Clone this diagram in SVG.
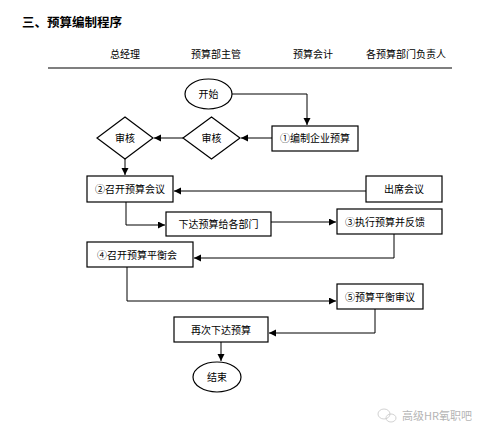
<svg xmlns="http://www.w3.org/2000/svg" width="495" height="443" viewBox="0 0 495 443">
<style>
text{font-family:"Noto Sans CJK SC","Liberation Sans",sans-serif;fill:#000}
.t{font-size:10px}
.c{text-anchor:middle}
.box{fill:#fff;stroke:#000;stroke-width:1.2}
.ln{fill:none;stroke:#000;stroke-width:1}
</style>
<defs>
<marker id="ah" markerWidth="8" markerHeight="8" refX="7" refY="3.5" orient="auto" markerUnits="userSpaceOnUse">
<path d="M0,0 L7,3.5 L0,7 Z" fill="#000"/>
</marker>
</defs>
<rect width="495" height="443" fill="#fff"/>
<text x="22" y="27" style="font-size:12.5px;font-weight:bold">三、预算编制程序</text>
<g id="headers" class="t">
<text class="t c" x="125" y="58">总经理</text>
<text class="t c" x="216" y="58">预算部主管</text>
<text class="t c" x="313" y="58">预算会计</text>
<text class="t c" x="406" y="58">各预算部门负责人</text>
<line x1="48" y1="68" x2="452" y2="68" stroke="#000" stroke-width="1.2"/>
</g>
<g id="connectors">
<path class="ln" d="M232,94 H307 V125" marker-end="url(#ah)"/>
<path class="ln" d="M272,138 H241" marker-end="url(#ah)"/>
<path class="ln" d="M183,138 H154" marker-end="url(#ah)"/>
<path class="ln" d="M125,159 V175" marker-end="url(#ah)"/>
<path class="ln" d="M366,191 H174" marker-end="url(#ah)"/>
<path class="ln" d="M126,202 V225 H165" marker-end="url(#ah)"/>
<path class="ln" d="M271,222 H336" marker-end="url(#ah)"/>
<path class="ln" d="M394,234 V258 H194" marker-end="url(#ah)"/>
<path class="ln" d="M127,267 V301 H336" marker-end="url(#ah)"/>
<path class="ln" d="M375,309 V333 H269" marker-end="url(#ah)"/>
<path class="ln" d="M221,342 V361" marker-end="url(#ah)"/>
</g>
<g id="start">
<ellipse class="box" cx="208.5" cy="94" rx="23.5" ry="15"/>
<text class="t c" x="208.5" y="98">开始</text>
</g>
<g id="n1">
<rect class="box" x="272" y="126" width="86" height="25"/>
<text class="t c" x="315" y="142">①编制企业预算</text>
</g>
<g id="d1">
<polygon class="box" points="211.5,117 240,138 211.5,159 183,138"/>
<text class="t c" x="211.5" y="142">审核</text>
</g>
<g id="d2">
<polygon class="box" points="125,117 153,138 125,159 97,138"/>
<text class="t c" x="125" y="142">审核</text>
</g>
<g id="n2">
<rect class="box" x="87" y="176" width="86" height="26"/>
<text class="t c" x="130" y="193">②召开预算会议</text>
</g>
<g id="attend">
<rect class="box" x="366" y="176" width="76" height="26"/>
<text class="t c" x="404" y="193">出席会议</text>
</g>
<g id="issue">
<rect class="box" x="166" y="212" width="105" height="24"/>
<text class="t c" x="218.5" y="228">下达预算给各部门</text>
</g>
<g id="n3">
<rect class="box" x="337" y="209" width="105" height="25"/>
<text class="t" x="345" y="226">③执行预算并反馈</text>
</g>
<g id="n4">
<rect class="box" x="87" y="242" width="106" height="25"/>
<text class="t" x="97" y="259">④召开预算平衡会</text>
</g>
<g id="n5">
<rect class="box" x="337" y="284" width="86" height="25"/>
<text class="t c" x="380" y="301">⑤预算平衡审议</text>
</g>
<g id="reissue">
<rect class="box" x="174" y="317" width="94" height="25"/>
<text class="t c" x="221" y="334">再次下达预算</text>
</g>
<g id="end">
<ellipse class="box" cx="217" cy="377" rx="24" ry="15"/>
<text class="t c" x="217" y="381">结束</text>
</g>
<g id="watermark" opacity="0.55">
<ellipse cx="384" cy="414" rx="6" ry="5" fill="none" stroke="#999" stroke-width="0.8"/>
<ellipse cx="391" cy="418" rx="5" ry="4" fill="none" stroke="#999" stroke-width="0.8"/>
<text x="402" y="420" style="font-size:11px;fill:#777">高级HR氧职吧</text>
</g>
</svg>
